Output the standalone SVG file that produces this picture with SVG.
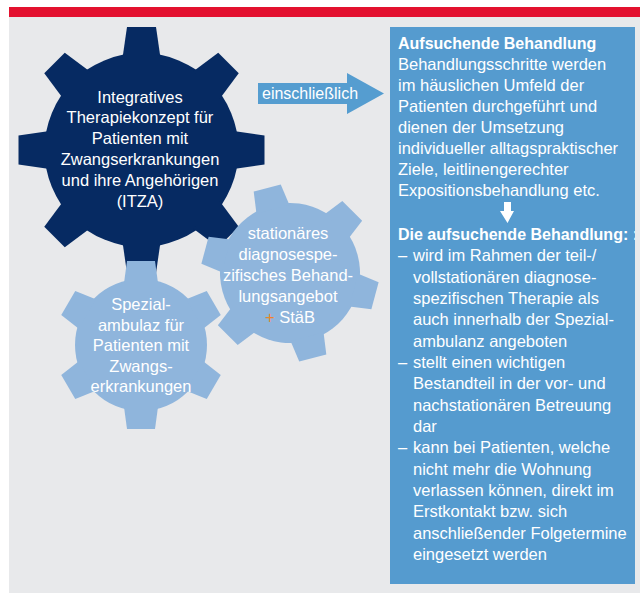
<svg xmlns="http://www.w3.org/2000/svg" xmlns:xlink="http://www.w3.org/1999/xlink" width="640" height="593" viewBox="0 0 640 593">
<style>
.t{font-family:"Liberation Sans",Arial,sans-serif;font-size:16.5px;fill:#ffffff}
.b{font-weight:bold;font-size:16px}
.c{text-anchor:middle}
.dark{fill:#062a62}
.light{fill:#8fb5dc}
.box{fill:#559bcf}
</style>
<defs>
<polygon id="tm" points="-19,-92 -14.5,-123 14.5,-123 19,-92"/>
<polygon id="ts" points="-17,-62 -14,-84 14,-84 17,-62"/>
<polygon id="tt" points="-17,-66 -14,-88 14,-88 17,-66"/>
<clipPath id="boxclip"><rect x="390" y="27" width="245" height="557"/></clipPath>
</defs>
<rect x="9" y="17" width="631" height="576" fill="#e8e9eb"/>
<rect x="9" y="7" width="631" height="10" fill="#e3112f"/>

<g id="gear-itza">
<g class="dark" transform="translate(141.5,150)">
<circle r="97"/>
<use xlink:href="#tm"/><use xlink:href="#tm" transform="rotate(45)"/><use xlink:href="#tm" transform="rotate(90)"/><use xlink:href="#tm" transform="rotate(135)"/><use xlink:href="#tm" transform="rotate(180)"/><use xlink:href="#tm" transform="rotate(225)"/><use xlink:href="#tm" transform="rotate(270)"/><use xlink:href="#tm" transform="rotate(315)"/>
</g>
<text class="t c" x="140" y="102.5">Integratives</text>
<text class="t c" x="140" y="123.3">Therapiekonzept für</text>
<text class="t c" x="140" y="144.1">Patienten mit</text>
<text class="t c" x="140" y="164.9">Zwangserkrankungen</text>
<text class="t c" x="140" y="185.7">und ihre Angehörigen</text>
<text class="t c" x="140" y="206.5">(ITZA)</text>
</g>

<g id="gear-spezial">
<g class="light" transform="translate(141,345)">
<circle r="66"/>
<use xlink:href="#ts"/><use xlink:href="#ts" transform="rotate(60)"/><use xlink:href="#ts" transform="rotate(120)"/><use xlink:href="#ts" transform="rotate(180)"/><use xlink:href="#ts" transform="rotate(240)"/><use xlink:href="#ts" transform="rotate(300)"/>
</g>
<text class="t c" x="141" y="310">Spezial-</text>
<text class="t c" x="141" y="330.5">ambulaz für</text>
<text class="t c" x="141" y="351">Patienten mit</text>
<text class="t c" x="141" y="371.5">Zwangs-</text>
<text class="t c" x="141" y="392">erkrankungen</text>
</g>

<g id="gear-stationaer">
<g class="light" transform="translate(290,273) rotate(-15)">
<circle r="70"/>
<use xlink:href="#tt"/><use xlink:href="#tt" transform="rotate(60)"/><use xlink:href="#tt" transform="rotate(120)"/><use xlink:href="#tt" transform="rotate(180)"/><use xlink:href="#tt" transform="rotate(240)"/><use xlink:href="#tt" transform="rotate(300)"/>
</g>
<text class="t c" x="288" y="238.5">stationäres</text>
<text class="t c" x="288" y="259.5">diagnosespe-</text>
<text class="t c" x="288" y="280.5">zifisches Behand-</text>
<text class="t c" x="288" y="301.5">lungsangebot</text>
<text class="t c" x="290" y="322.5"><tspan fill="#e8862b">+</tspan> StäB</text>
</g>

<g id="box-aufsuchende">
<rect class="box" x="390" y="27" width="245" height="557"/>
<g clip-path="url(#boxclip)">
<text class="t b" x="398" y="49">Aufsuchende Behandlung</text>
<text class="t" x="398" y="70">Behandlungsschritte werden</text>
<text class="t" x="398" y="91">im häuslichen Umfeld der</text>
<text class="t" x="398" y="112">Patienten durchgeführt und</text>
<text class="t" x="398" y="133">dienen der Umsetzung</text>
<text class="t" x="398" y="154">individueller alltagspraktischer</text>
<text class="t" x="398" y="175">Ziele, leitlinengerechter</text>
<text class="t" x="398" y="196">Expositionsbehandlung etc.</text>
<text class="t b" x="398" y="240">Die aufsuchende Behandlung: :</text>
<text class="t" x="398" y="261.3">–</text><text class="t" x="413" y="261.3">wird im Rahmen der teil-/</text>
<text class="t" x="413" y="282.7">vollstationären diagnose-</text>
<text class="t" x="413" y="304">spezifischen Therapie als</text>
<text class="t" x="413" y="325.3">auch innerhalb der Spezial-</text>
<text class="t" x="413" y="346.7">ambulanz angeboten</text>
<text class="t" x="398" y="368">–</text><text class="t" x="413" y="368">stellt einen wichtigen</text>
<text class="t" x="413" y="389.3">Bestandteil in der vor- und</text>
<text class="t" x="413" y="410.7">nachstationären Betreuung</text>
<text class="t" x="413" y="432">dar</text>
<text class="t" x="398" y="453.3">–</text><text class="t" x="413" y="453.3">kann bei Patienten, welche</text>
<text class="t" x="413" y="474.7">nicht mehr die Wohnung</text>
<text class="t" x="413" y="496">verlassen können, direkt im</text>
<text class="t" x="413" y="517.3">Erstkontakt bzw. sich</text>
<text class="t" x="413" y="538.7">anschließender Folgetermine</text>
<text class="t" x="413" y="560">eingesetzt werden</text>
</g>
</g>

<g id="connectors">
<path d="M258,83 H347 V73 L384,93.5 L347,114 V104 H258 Z" fill="#559dd0"/>
<text class="t" x="262" y="99" style="font-size:16px">einschließlich</text>
<path d="M504,202 H511 V211 H514 L507.5,223 L500,211 H504 Z" fill="#ffffff"/>
</g>
</svg>
